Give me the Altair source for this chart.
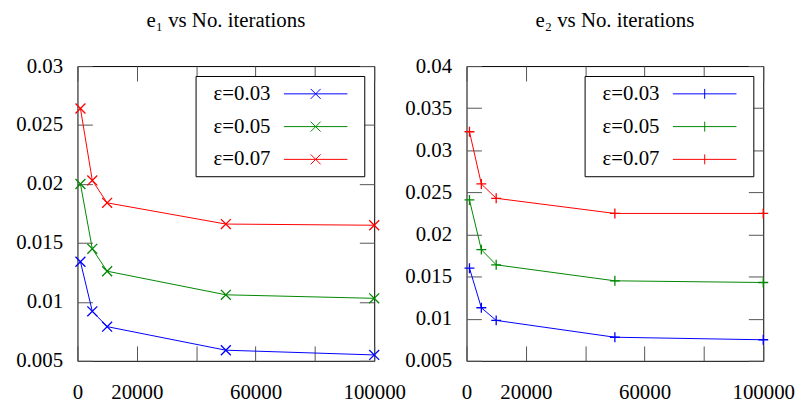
import altair as alt
import pandas as pd

# ---- data ----
iterations = [1000, 5000, 10000, 50000, 100000]
series = ["ε=0.03", "ε=0.05", "ε=0.07"]
e1_003 = [0.0134, 0.0092, 0.0079, 0.0059, 0.0055]
e1_005 = [0.0200, 0.0145, 0.0126, 0.0106, 0.0103]
e1_007 = [0.0264, 0.0203, 0.0184, 0.0166, 0.0165]
e2_003 = [0.0160, 0.0113, 0.0098, 0.0078, 0.0075]
e2_005 = [0.0241, 0.0182, 0.0164, 0.0145, 0.0143]
e2_007 = [0.0322, 0.0260, 0.0243, 0.0225, 0.0225]
x_ticks = [0, 20000, 40000, 60000, 80000, 100000]
y1_ticks = [0.005, 0.01, 0.015, 0.02, 0.025, 0.03]
y2_ticks = [0.005, 0.01, 0.015, 0.02, 0.025, 0.03, 0.035, 0.04]
colors = ["#0000ff", "#008800", "#ff0000"]
titles = ["e₁ vs No. iterations", "e₂ vs No. iterations"]

FONT = "Liberation Serif"
W, H = 299, 297

X_PATH = "M-1,-1L1,1M-1,1L1,-1"
PLUS_PATH = "M-1,0L1,0M0,-1L0,1"
LEG_X = "M-3.05,0H3.05M-0.476,-0.476L0.476,0.476M-0.476,0.476L0.476,-0.476M3.8,0"
LEG_PLUS = "M-3.05,0H3.05M0,-0.476V0.476M3.8,0"


def make_df(vals):
    rows = []
    for s, v in zip(series, vals):
        for it, y in zip(iterations, v):
            rows.append({"iter": it, "err": y, "series": s})
    return pd.DataFrame(rows)


def panel(df, title, yticks, ydom, shape, leg_shape):
    x = alt.X(
        "iter:Q",
        scale=alt.Scale(domain=[0, 100000], nice=False, zero=False),
        axis=alt.Axis(
            values=x_ticks, format="d", title=None,
            labelExpr="datum.value == 40000 || datum.value == 80000 ? '' : datum.label",
            domain=False, ticks=False, grid=True,
            gridDash=[15, H - 30, 15, 2000], gridColor="#555555", gridOpacity=1, gridWidth=1,
            labelFont=FONT, labelFontSize=21, labelColor="black", labelPadding=21,
            labelFlush=False, labelOverlap=False,
        ),
    )
    y = alt.Y(
        "err:Q",
        scale=alt.Scale(domain=ydom, nice=False, zero=False),
        axis=alt.Axis(
            values=yticks, format="~g", title=None,
            domain=False, ticks=False, grid=True,
            gridDash=[15, W - 30, 15, 2000], gridColor="#555555", gridOpacity=1, gridWidth=1,
            labelFont=FONT, labelFontSize=21, labelColor="black", labelPadding=15,
            labelOverlap=False,
        ),
    )
    color = alt.Color(
        "series:N",
        scale=alt.Scale(domain=series, range=colors),
        legend=alt.Legend(
            title=None, orient="none", legendX=119, legendY=10,
            symbolType=leg_shape, symbolSize=441, symbolStrokeWidth=1,
            symbolOffset=103, labelAlign="right", labelOffset={"expr": "-56.5"},
            labelFont=FONT, labelFontSize=21, labelColor="black",
            strokeColor="black", fillColor="white", padding=7, rowPadding=12,
        ),
    )
    ch = (
        alt.Chart(df)
        .mark_line(
            strokeWidth=1,
            point=alt.OverlayMarkDef(shape=shape, filled=False, size=100, strokeWidth=1.3),
        )
        .encode(x=x, y=y, color=color)
        .properties(
            width=W, height=H,
            title=alt.TitleParams(
                title, font=FONT, fontSize=21, fontWeight="normal", color="black",
                anchor="middle", frame="group", offset=24,
            ),
        )
    )
    return ch


left = panel(make_df([e1_003, e1_005, e1_007]), titles[0], y1_ticks, [0.005, 0.03], X_PATH, LEG_X)
right = panel(make_df([e2_003, e2_005, e2_007]), titles[1], y2_ticks, [0.005, 0.04], PLUS_PATH, LEG_PLUS)

chart = (
    alt.hconcat(left, right, spacing=93, bounds="flush")
    .resolve_scale(color="independent", y="independent")
    .configure(font=FONT)
    .configure_axis(labelFont=FONT)
    .configure_legend(labelFont=FONT)
    .configure_view(stroke="black", strokeWidth=1)
    .properties(padding={"left": 7, "top": 0, "right": 0, "bottom": 0})
)

chart.save("out.html", embed_options={"renderer": "svg", "actions": False})
